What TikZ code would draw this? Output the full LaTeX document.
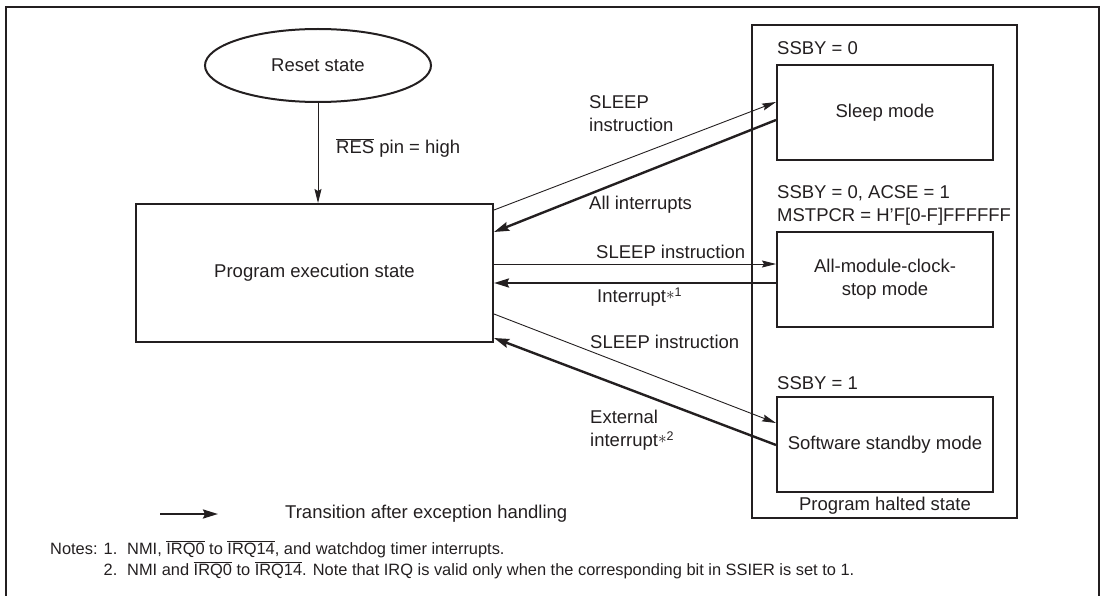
\documentclass[tikz,border=0pt]{standalone}
\usepackage{fontspec}
\setmainfont{Liberation Sans}
\usetikzlibrary{arrows.meta,shapes.geometric}
\newcommand\ovl[1]{\ensuremath{\overline{\mbox{#1}}}}
\newcommand\fnref[1]{\raisebox{3pt}{\fontsize{18}{18}\selectfont$\ast$}\raisebox{6pt}{\fontsize{12.5}{12.5}\selectfont #1}}
\definecolor{ink}{HTML}{231F20}
\begin{document}
\begin{tikzpicture}[x=1pt,y=-1pt,
  every node/.style={text=ink},
  font=\fontsize{18.5}{23}\selectfont,
  statebox/.style={draw=ink, line width=2pt, inner sep=0pt, align=center},
  lbl/.style={inner sep=0pt, anchor=west, align=left},
  notefont/.style={font=\fontsize{16.4}{20}\selectfont},
  thinarrow/.style={draw=ink, line width=0.9pt, -{Stealth[length=14pt,width=7pt,inset=2pt]}},
  thickarrow/.style={draw=ink, line width=2.4pt, -{Stealth[length=15pt,width=9pt,inset=2pt]}}
]
\useasboundingbox (0,0) rectangle (1103,596);
% outer frame
\draw[ink, line width=2.2pt] (6,596) -- (6,7) -- (1099,7) -- (1099,596);

% nodes
\node[statebox, ellipse, minimum width=226pt, minimum height=73pt] (reset) at (318,65.5) {Reset state};
\node[statebox, minimum width=357pt, minimum height=138pt] (pe) at (314.5,273) {Program execution state};
\node[statebox, minimum width=265pt, minimum height=493pt] (halt) at (884.5,271.5) {};
\node[statebox, minimum width=216pt, minimum height=95pt] (sleep) at (885,112.5) {Sleep mode};
\node[statebox, minimum width=216pt, minimum height=95pt] (amcs) at (885,279.5) {All-module-clock-\\stop mode};
\node[statebox, minimum width=216pt, minimum height=95pt] (ssb) at (885,444.5) {Software standby mode};

% condition labels
\node[lbl] (c1) at (777,48) {SSBY = 0};
\node[lbl] (c2) at (777,205) {SSBY = 0, ACSE = 1\\MSTPCR = H'F[0-F]FFFFFF};
\node[lbl] (c3) at (777,383) {SSBY = 1};
\node[inner sep=0pt] (hl) at (885,506) {Program halted state};

% transitions
\draw[thinarrow] (reset.south) -- (reset.south |- pe.north);
\node[lbl] (lres) at (336,148) {\ovl{RES} pin = high};

\draw[thinarrow] (pe.east |- 0,210) -- (sleep.west |- 773,102);
\draw[thickarrow] (sleep.west |- 0,120) -- (pe.east |- 496,232);
\node[lbl] (l1) at (589,113.5) {SLEEP\\instruction};
\node[lbl] (l2) at (589,205) {All interrupts};

\draw[thinarrow] (pe.east |- 0,264) -- (amcs.west |- 773,264);
\draw[thickarrow] (amcs.west |- 0,283) -- (pe.east |- 497,283);
\node[lbl] (l3) at (596,252) {SLEEP instruction};
\node[lbl] (l4) at (597,297) {Interrupt\fnref{1}};

\draw[thinarrow] (pe.east |- 0,314) -- (ssb.west |- 773,423);
\draw[thickarrow] (ssb.west |- 0,445) -- (pe.east |- 497,338);
\node[lbl] (l5) at (590,342) {SLEEP instruction};
\node[lbl] (l6) at (590,430.5) {External\\interrupt\fnref{2}};

% legend
\coordinate (lg1) at (160,514);
\coordinate (lg2) at (218,514);
\draw[thickarrow] (lg1) -- (lg2);
\node[lbl] (lgt) at (285,514) {Transition after exception handling};

% notes
\node[lbl, notefont] (n0) at (50,549) {Notes: 1.};
\node[lbl, notefont] (n1) at (127,549) {NMI, \ovl{IRQ0} to \ovl{IRQ14}, and watchdog timer interrupts.};
\node[lbl, notefont, anchor=east] (n2a) at (n0.east |- 0,570) {2.};
\node[lbl, notefont] (n2) at (127,570) {NMI and \ovl{IRQ0} to \ovl{IRQ14}. Note that IRQ is valid only when the corresponding bit in SSIER is set to 1.};
\end{tikzpicture}
\end{document}
